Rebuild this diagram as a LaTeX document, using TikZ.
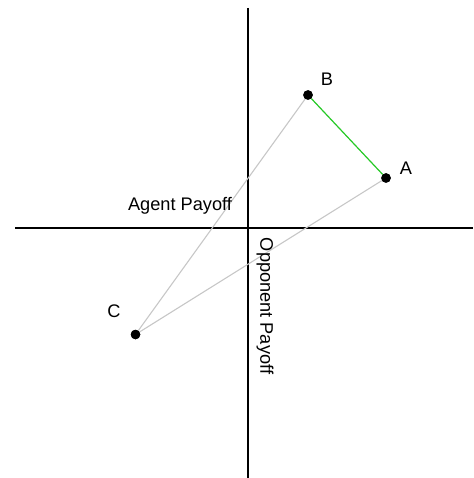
\documentclass[tikz,border=0pt]{standalone}
\usepackage{fontspec}
\setmainfont{Liberation Sans}
\begin{document}
\begin{tikzpicture}[x=1pt,y=-1pt,
  axis/.style={black,line width=1.1pt},
  edge/.style={draw=black!22,line width=1.1pt},
  goodedge/.style={draw=green!75!black!85,line width=1.2pt},
  pt/.style={circle,fill=black,inner sep=0pt,minimum size=9.5pt},
  lbl/.style={font=\fontsize{18.2}{20}\selectfont,inner sep=0pt}]
\useasboundingbox (0,0) rectangle (473,478);
\coordinate (xl) at (15,228);
\coordinate (xr) at (473,228);
\coordinate (yt) at (248,8);
\coordinate (yb) at (248,478);
\draw[axis] (xl) -- (xr);
\draw[axis] (yt) -- (yb);
\node[pt] (B) at (308,95) {};
\node[pt] (A) at (386,178) {};
\node[pt] (C) at (135.5,334.5) {};
\draw[edge] (C) -- (B);
\draw[edge] (C) -- (A);
\draw[goodedge] (B) -- (A);
\node[pt] at (B) {};
\node[pt] at (A) {};
\node[pt] at (C) {};
\node[lbl] (lB) at (327,79) {B};
\node[lbl] (lA) at (406,168) {A};
\node[lbl] (lC) at (114,311) {C};
\node[lbl] (ag) at (180,206) {Agent Payoff};
\node[lbl,rotate=-90] (op) at (265,306) {Opponent Payoff};
\end{tikzpicture}
\end{document}
